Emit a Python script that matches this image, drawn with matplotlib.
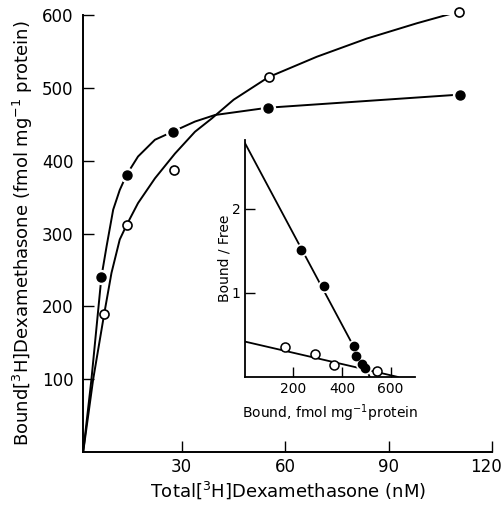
import matplotlib
matplotlib.use("Agg")
import matplotlib.pyplot as plt
from matplotlib.transforms import ScaledTranslation

plt.rcParams['font.family'] = ['DejaVu Sans']
plt.rcParams['mathtext.fontset'] = 'dejavusans'

# main plot: measured points
filled_x = [6.8, 14.1, 27.4, 55.0, 110.6]
filled_y = [241, 381, 440, 473, 491]
open_x = [7.6, 14.1, 27.8, 55.2, 110.3]
open_y = [190, 312, 388, 515, 605]

# hand-drawn curves
filled_curve_x = [1.5, 3.9, 6.8, 8.3, 10.2, 12.1, 14.1, 17.4, 22.3, 27.4, 33.9, 39.7, 55.0, 110.6]
filled_curve_y = [0, 100, 241, 283, 333, 360, 381, 406, 429, 440, 454, 463, 473, 491]
open_curve_x = [1.5, 4.4, 7.6, 9.7, 12.1, 14.1, 17.4, 22.3, 28.1, 33.9, 38.7, 45.1, 55.2,
                69.2, 83.7, 98.2, 110.3]
open_curve_y = [0, 100, 190, 246, 292, 312, 342, 376, 410, 440, 458, 484, 515,
                543, 568, 589, 605]

# inset (Scatchard plot)
sc_filled_x = [229, 325, 450, 458, 483, 496]
sc_filled_y = [1.51, 1.08, 0.37, 0.25, 0.15, 0.11]
sc_open_x = [167, 288, 367, 546]
sc_open_y = [0.36, 0.27, 0.14, 0.07]
sc_filled_line_x = [0, 515]
sc_filled_line_y = [2.78, 0]
sc_open_line_x = [0, 630]
sc_open_line_y = [0.42, 0]

fig = plt.figure(figsize=(5.04, 5.08), dpi=100)
ax = fig.add_axes([0.165, 0.110, 0.8115, 0.860])

ax.plot(filled_curve_x, filled_curve_y, color='black', lw=1.4, zorder=2)
ax.plot(open_curve_x, open_curve_y, color='black', lw=1.4, zorder=2)
# white halo around filled markers breaks the line
ax.plot(filled_x, filled_y, 'o', ms=10, color='white', zorder=3)
ax.plot(filled_x, filled_y, 'o', ms=6.5, color='black', zorder=4, clip_on=False)
ax.plot(open_x, open_y, 'o', ms=6.5, mfc='white', mec='black', mew=1.2, zorder=4, clip_on=False)

ax.set_xlim(1.5, 120)
ax.set_ylim(0, 600)
ax.set_xticks([30, 60, 90, 120])
ax.set_yticks([100, 200, 300, 400, 500, 600])
ax.spines['top'].set_visible(False)
ax.spines['right'].set_visible(False)
for s in ['left', 'bottom']:
    ax.spines[s].set_linewidth(1.4)
ax.tick_params(direction='in', length=8, width=1.0, labelsize=12, pad=4)
ax.tick_params(axis='y', pad=7)
ax.set_xlabel(r'Total$\left[^{3}\mathrm{H}\right]$Dexamethasone (nM)', fontsize=13, labelpad=3)
ax.set_ylabel(r'Bound$\left[^{3}\mathrm{H}\right]$Dexamethasone (fmol mg$^{-1}$ protein)',
              fontsize=13, labelpad=5)

# keep the last x tick label inside the figure
last = ax.get_xticklabels()[-1]
last.set_transform(last.get_transform() + ScaledTranslation(-6 / 100, 0, fig.dpi_scale_trans))

# inset
ins = fig.add_axes([0.486, 0.258, 0.337, 0.467])
ins.plot(sc_filled_line_x, sc_filled_line_y, color='black', lw=1.3, zorder=2)
ins.plot(sc_open_line_x, sc_open_line_y, color='black', lw=1.3, zorder=2)
ins.plot(sc_filled_x, sc_filled_y, 'o', ms=8.5, color='white', zorder=3)
ins.plot(sc_filled_x, sc_filled_y, 'o', ms=6, color='black', zorder=4)
ins.plot(sc_open_x, sc_open_y, 'o', ms=6.5, mfc='white', mec='black', mew=1.1, zorder=4)
ins.set_xlim(0, 700)
ins.set_ylim(0, 2.82)
ins.set_xticks([200, 400, 600])
ins.set_yticks([1, 2])
ins.patch.set_alpha(0)
ins.spines['top'].set_visible(False)
ins.spines['right'].set_visible(False)
for s in ['left', 'bottom']:
    ins.spines[s].set_linewidth(1.3)
ins.tick_params(direction='in', length=7, width=1.0, labelsize=10, pad=4)
ins.tick_params(axis='y', pad=3)
ins.set_xlabel(r'Bound, fmol mg$^{-1}$protein', fontsize=10, labelpad=4)
ins.set_ylabel('Bound / Free', fontsize=10, labelpad=0)

fig.savefig('out.png', dpi=100)
